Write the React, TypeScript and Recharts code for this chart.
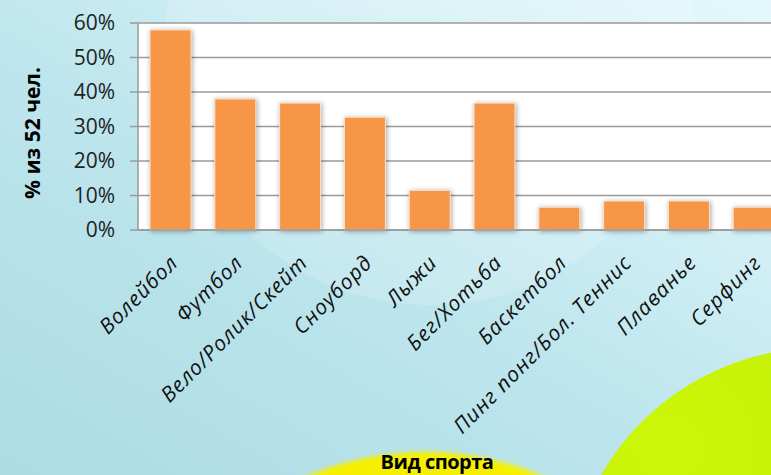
import React from "react";
import { BarChart, Bar, XAxis, YAxis, CartesianGrid } from "recharts";

const categories = [
  "Волейбол",
  "Футбол",
  "Вело/Ролик/Скейт",
  "Сноуборд",
  "Лыжи",
  "Бег/Хотьба",
  "Баскетбол",
  "Пинг понг/Бол. Теннис",
  "Плаванье",
  "Серфинг",
];
const shares = [58, 38, 36.8, 32.7, 11.5, 36.8, 6.6, 8.4, 8.4, 6.6];
const yTicks = [0, 10, 20, 30, 40, 50, 60];
const yLabel = "% из 52 чел.";
const xLabel = "Вид спорта";

const data = categories.map((name, i) => ({ name, value: shares[i] }));

const FONT = "'Open Sans', 'Noto Sans', sans-serif";

const XTick = (props: any) => {
  const { x, y, payload } = props;
  return (
    <g transform={`translate(${x + 9},${y + 34})`}>
      <text
        transform="rotate(-45)"
        textAnchor="end"
        fontFamily={FONT}
        fontStyle="italic"
        fontSize={21}
        letterSpacing={1}
        fill="#111"
      >
        {payload.value}
      </text>
    </g>
  );
};

const BarShape = (props: any) => {
  const { x, y, width, height } = props;
  return (
    <rect
      x={x}
      y={y}
      width={width}
      height={height}
      fill="#F79646"
      stroke="#fde3cf"
      strokeWidth={1}
      style={{ filter: "drop-shadow(1px 1px 2.5px rgba(0,0,0,0.35))" }}
    />
  );
};

export default function App() {
  return (
    <div
      style={{
        position: "fixed",
        left: 0,
        top: 0,
        width: 771,
        height: 475,
        overflow: "hidden",
        background:
          "linear-gradient(30deg, #acdce4 0%, #bde5ed 45%, #d4f0f6 75%, #e4f8fc 100%)",
      }}
    >
      <div
        style={{
          position: "absolute",
          left: 430 - 265,
          top: 40 - 265,
          width: 530,
          height: 530,
          borderRadius: "50%",
          background: "rgba(255,255,255,0.16)",
        }}
      />
      <div
        style={{
          position: "absolute",
          left: 425 - 299,
          top: 751 - 299,
          width: 598,
          height: 598,
          borderRadius: "50%",
          background: "radial-gradient(circle at 50% 50%, #f6f000 80%, #eaea10 100%)",
          filter: "blur(2px)",
        }}
      />
      <div
        style={{
          position: "absolute",
          left: 820 - 252,
          top: 600 - 252,
          width: 504,
          height: 504,
          borderRadius: "50%",
          background: "radial-gradient(circle at 20% 20%, #cdf706 0%, #c2ef0c 40%, #a4dc1e 100%)",
        }}
      />
      <div style={{ position: "absolute", left: 0, top: 0 }}>
        <BarChart
          width={800}
          height={475}
          data={data}
          margin={{ top: 23, right: 14, bottom: 0, left: 0 }}
          barSize={41}
        >
          <CartesianGrid
            vertical={false}
            fill="#ffffff"
            stroke="#9a9a9a"
            strokeWidth={1.5}
          />
          <XAxis
            dataKey="name"
            height={245}
            interval={0}
            tickLine={false}
            tickSize={0}
            tickMargin={0}
            axisLine={{ stroke: "#9a9a9a", strokeWidth: 1.5 }}
            tick={<XTick />}
            label={{
              content: (p: any) => (
                <text
                  x={p.viewBox.x + 299}
                  y={469}
                  textAnchor="middle"
                  fontFamily={FONT}
                  fontWeight="bold"
                  fontSize={20}
                  letterSpacing={-0.5}
                  fill="#000"
                >
                  {xLabel}
                </text>
              ),
            }}
          />
          <YAxis
            width={138}
            domain={[0, 60]}
            ticks={yTicks}
            interval={0}
            tickFormatter={(v: number) => `${v}%`}
            tickSize={8}
            tickMargin={15}
            tickLine={{ stroke: "#9a9a9a", strokeWidth: 1.5 }}
            axisLine={{ stroke: "#9a9a9a", strokeWidth: 1.5 }}
            tick={{ fontFamily: FONT, fontSize: 21, fill: "#222" }}
            label={{
              content: () => (
                <text
                  x={40}
                  y={133}
                  transform="rotate(-90, 40, 133)"
                  textAnchor="middle"
                  fontFamily={FONT}
                  fontWeight="bold"
                  fontSize={21}
                  fill="#000"
                >
                  {yLabel}
                </text>
              ),
            }}
          />
          <Bar dataKey="value" shape={<BarShape />} isAnimationActive={false} />
        </BarChart>
      </div>
    </div>
  );
}
